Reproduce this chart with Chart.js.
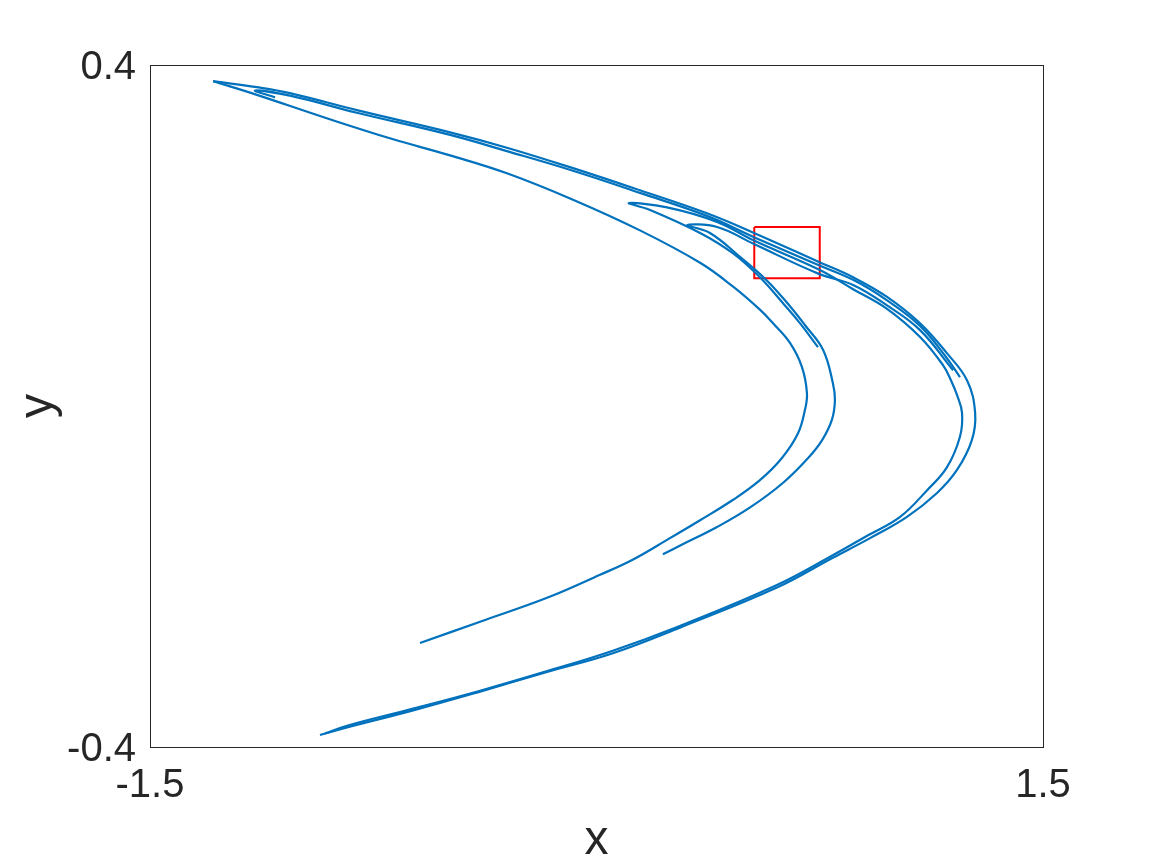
<!DOCTYPE html>
<html>
<head>
<meta charset="utf-8">
<script src="https://cdn.jsdelivr.net/npm/chart.js@4/dist/chart.umd.min.js"></script>
<style>
  html, body { margin: 0; padding: 0; background: #fff; }
  canvas { display: block; }
</style>
</head>
<body>
<canvas id="attractor" width="1152" height="864"></canvas>
<script>
// strands of the attractor
const outerX = [-1.288, -1.141, -1.030, -0.805, -0.492, -0.301, -0.079, 0.146, 0.371, 0.529, 0.747, 0.862, 0.976, 1.087, 1.177, 1.245, 1.272, 1.261, 1.211, 1.144, 1.043, 0.919, 0.794, 0.606, 0.280, 0.055, -0.166, -0.391, -0.616, -0.838, -0.929];
const outerY = [0.381, 0.374, 0.367, 0.347, 0.321, 0.303, 0.279, 0.253, 0.226, 0.203, 0.169, 0.151, 0.128, 0.097, 0.062, 0.030, -0.008, -0.040, -0.075, -0.102, -0.130, -0.155, -0.178, -0.213, -0.260, -0.290, -0.312, -0.335, -0.357, -0.377, -0.386];

const topBandX = [-1.080, -1.147, -1.030, -0.805, -0.492, -0.301, -0.079, 0.146, 0.371, 0.529, 0.747, 0.862, 0.976, 1.087, 1.171, 1.221];
const topBandY = [0.362, 0.370, 0.364, 0.344, 0.318, 0.299, 0.276, 0.250, 0.223, 0.198, 0.165, 0.148, 0.124, 0.094, 0.059, 0.034];

const innerX = [-1.288, -1.141, -0.919, -0.694, -0.492, -0.301, -0.079, 0.146, 0.348, 0.459, 0.549, 0.593, 0.650, 0.690, 0.707, 0.700, 0.677, 0.623, 0.549, 0.459, 0.348, 0.237, 0.123, 0.012, -0.166, -0.391, -0.593];
const innerY = [0.381, 0.365, 0.339, 0.314, 0.294, 0.273, 0.242, 0.206, 0.168, 0.140, 0.113, 0.097, 0.074, 0.046, 0.015, -0.005, -0.032, -0.061, -0.087, -0.110, -0.134, -0.157, -0.180, -0.198, -0.225, -0.253, -0.278];

const fold1X = [-0.912, -0.838, -0.616, -0.391, -0.166, 0.055, 0.280, 0.606, 0.794, 0.905, 1.020, 1.110, 1.177, 1.221, 1.228, 1.211, 1.191, 1.164, 1.087, 0.976, 0.862, 0.747, 0.529, 0.405, 0.237, 0.109, 0.180, 0.348, 0.459, 0.549, 0.633, 0.684, 0.744];
const fold1Y = [-0.384, -0.375, -0.355, -0.334, -0.311, -0.287, -0.258, -0.210, -0.175, -0.153, -0.130, -0.099, -0.072, -0.036, -0.008, 0.013, 0.030, 0.048, 0.081, 0.114, 0.137, 0.160, 0.194, 0.216, 0.233, 0.238, 0.230, 0.203, 0.179, 0.151, 0.118, 0.097, 0.069];

const fold2X = [1.198, 1.087, 0.976, 0.862, 0.747, 0.529, 0.405, 0.304, 0.381, 0.482, 0.573, 0.650, 0.700, 0.761, 0.794, 0.801, 0.791, 0.758, 0.711, 0.627, 0.516, 0.405, 0.291, 0.223];
const fold2Y = [0.042, 0.089, 0.118, 0.142, 0.155, 0.190, 0.210, 0.212, 0.203, 0.175, 0.147, 0.117, 0.095, 0.066, 0.027, 0.007, -0.016, -0.040, -0.061, -0.090, -0.119, -0.142, -0.162, -0.174];

// zoom box
const boxX = [0.53, 0.75, 0.75, 0.53, 0.53];
const boxY = [0.21, 0.21, 0.15, 0.15, 0.21];

const xTicks = [-1.5, 1.5];
const yTicks = [-0.4, 0.4];

const FONT = '"Liberation Sans", Arial, Helvetica, sans-serif';
const TEXT = '#262626';
const BLUE = '#0072BD';

function toPoints(xs, ys) {
  return xs.map((x, i) => ({ x, y: ys[i] }));
}

function strand(xs, ys) {
  return {
    data: toPoints(xs, ys),
    showLine: true,
    borderColor: BLUE,
    borderWidth: 2.2,
    pointRadius: 0,
    tension: 0.4,
  };
}

const framePlugin = {
  id: 'frame',
  afterDraw(chart) {
    const { ctx, chartArea } = chart;
    ctx.save();
    ctx.strokeStyle = TEXT;
    ctx.lineWidth = 1;
    ctx.strokeRect(Math.round(chartArea.left) + 0.5, Math.round(chartArea.top) + 0.5,
      Math.round(chartArea.right - chartArea.left), Math.round(chartArea.bottom - chartArea.top));
    ctx.restore();
  },
};

const boxSet = {
  data: toPoints(boxX, boxY),
  showLine: true,
  borderColor: '#FF0000',
  borderWidth: 2,
  pointRadius: 0,
  tension: 0,
};

new Chart(document.getElementById('attractor'), {
  type: 'scatter',
  data: {
    datasets: [
      strand(outerX, outerY),
      strand(topBandX, topBandY),
      strand(innerX, innerY),
      strand(fold1X, fold1Y),
      strand(fold2X, fold2Y),
      boxSet,
    ],
  },
  options: {
    responsive: false,
    animation: false,
    devicePixelRatio: 1,
    layout: { padding: { top: 65, right: 109, left: 0, bottom: 0 } },
    plugins: {
      legend: { display: false },
      tooltip: { enabled: false },
    },
    scales: {
      x: {
        type: 'linear',
        min: -1.5,
        max: 1.5,
        afterBuildTicks: (scale) => { scale.ticks = xTicks.map((v) => ({ value: v })); },
        afterFit: (scale) => { scale.height = 117; },
        grid: { display: false, drawTicks: false },
        border: { display: false },
        ticks: {
          padding: 15,
          color: TEXT,
          font: { family: FONT, size: 40 },
          maxRotation: 0,
          callback: (v) => String(v),
        },
        title: {
          display: true,
          text: 'x',
          color: TEXT,
          font: { family: FONT, size: 48 },
          padding: { top: 0, bottom: -6 },
        },
      },
      y: {
        type: 'linear',
        min: -0.4,
        max: 0.4,
        afterBuildTicks: (scale) => { scale.ticks = yTicks.map((v) => ({ value: v })); },
        afterFit: (scale) => { scale.width = 150; },
        grid: { display: false, drawTicks: false },
        border: { display: false },
        ticks: {
          padding: 14,
          labelOffset: 3,
          color: TEXT,
          font: { family: FONT, size: 40 },
          callback: (v) => String(v),
        },
        title: {
          display: true,
          text: 'y',
          color: TEXT,
          font: { family: FONT, size: 48 },
          padding: { top: 10, bottom: 0 },
        },
      },
    },
  },
  plugins: [framePlugin],
});
</script>
</body>
</html>
